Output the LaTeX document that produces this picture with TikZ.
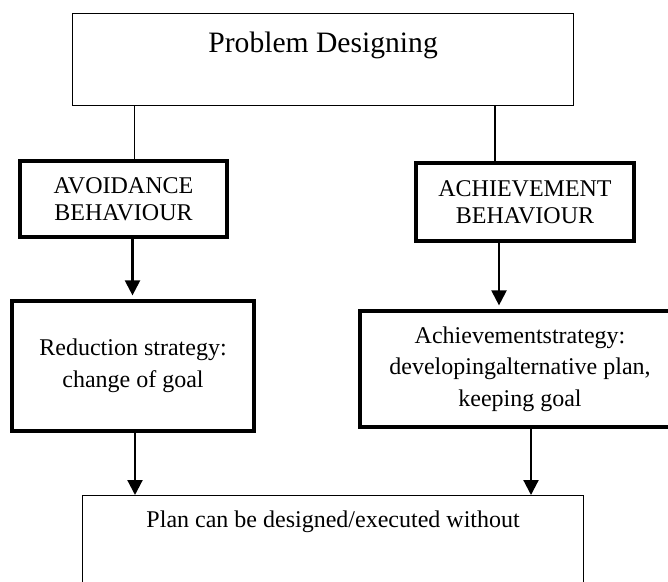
\documentclass[tikz,border=0pt]{standalone}
\usepackage{fontspec}
\setmainfont{Liberation Serif}
\usetikzlibrary{arrows.meta}
\tikzset{
	thinbox/.style={draw, line width=0.6pt, inner sep=0pt, align=center, font=\fontsize{12}{16}\selectfont},
	thickbox/.style={draw, line width=1.6pt, inner sep=0pt, align=center, font=\fontsize{12}{13.5}\selectfont},
	arr/.style={line width=1.1pt, -{Triangle[length=7.5pt,width=7.5pt]}},
}
\begin{document}
\begin{tikzpicture}[x=0.5pt,y=-0.5pt]
		\useasboundingbox (0,0) rectangle (668,582);
		\clip (0,0) rectangle (668,582);
		
		\node[thinbox, anchor=north west, minimum width=250.5pt, text height=19.5pt, text depth=26.5pt,
			font=\fontsize{14.8}{16}\selectfont] (top) at (72,13) {Problem Designing};
		\node[thickbox, minimum width=103.5pt, minimum height=38pt] (avoid) at (123.5,199) {AVOIDANCE\\BEHAVIOUR};
		\node[thickbox, minimum width=109pt, minimum height=39pt] (achieve) at (525,202) {ACHIEVEMENT\\BEHAVIOUR};
		\node[thickbox, minimum width=121pt, minimum height=65pt, font=\fontsize{12}{16}\selectfont] (reduce) at (133,366) {Reduction strategy:\\change of goal};
		\node[thickbox, minimum width=160pt, minimum height=58pt, font=\fontsize{12}{15.7}\selectfont] (keep) at (520,369) {Achievementstrategy:\\developingalternative plan,\\keeping goal};
		\node[thinbox, anchor=north west, minimum width=250.5pt, text height=16pt, text depth=40pt] (plan) at (82,495) {Plan can be designed/executed without};
		
		\draw[line width=0.6pt] ([xshift=5.5pt]avoid.north) -- ([xshift=5.5pt]avoid.north |- top.south);
		\draw[line width=0.6pt] ([xshift=-15pt]achieve.north) -- ([xshift=-15pt]achieve.north |- top.south);
		\draw[arr] ([xshift=4.5pt]avoid.south) -- ([xshift=4.5pt,yshift=2pt]avoid.south |- reduce.north);
		\draw[arr] ([xshift=-13pt]achieve.south) -- ([xshift=-13pt,yshift=2pt]achieve.south |- keep.north);
		\draw[arr] ([xshift=1pt]reduce.south) -- ([xshift=1pt]reduce.south |- plan.north);
		\draw[arr] ([xshift=5.5pt]keep.south) -- ([xshift=5.5pt]keep.south |- plan.north);
		\end{tikzpicture}
\end{document}
